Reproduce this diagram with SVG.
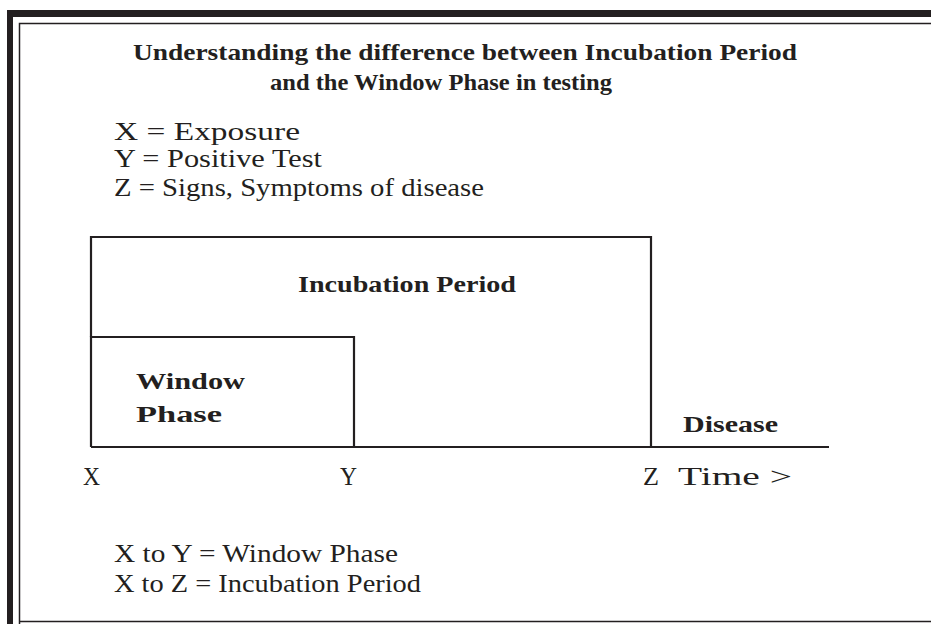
<svg xmlns="http://www.w3.org/2000/svg" width="931" height="624" viewBox="0 0 931 624">
<style>
.t{font-family:"Liberation Serif","DejaVu Serif",serif;fill:#231f20}
.b{font-weight:bold}
.ln{stroke:#231f20;stroke-width:2.2;fill:none}
</style>
<rect width="931" height="624" fill="#fff"/>
<g id="frame">
<rect x="7" y="10" width="924" height="7" fill="#231f20"/>
<rect x="7" y="10" width="6" height="614" fill="#231f20"/>
<path d="M19.5 624 V23.5 H931 M19.5 621.5 H931" stroke="#231f20" stroke-width="1.5" fill="none"/>
</g>
<g id="title">
<text class="t b" x="133" y="60" font-size="23" textLength="664" lengthAdjust="spacingAndGlyphs">Understanding the difference between Incubation Period</text>
<text class="t b" x="270" y="90" font-size="23" textLength="342" lengthAdjust="spacingAndGlyphs">and the Window Phase in testing</text>
</g>
<g id="legend">
<text class="t" x="114" y="140" font-size="25" textLength="186" lengthAdjust="spacingAndGlyphs">X = Exposure</text>
<text class="t" x="114" y="167" font-size="25" textLength="208" lengthAdjust="spacingAndGlyphs">Y = Positive Test</text>
<text class="t" x="114" y="196" font-size="25" textLength="370" lengthAdjust="spacingAndGlyphs">Z = Signs, Symptoms of disease</text>
</g>
<g id="incubation">
<path class="ln" d="M91 337 V237 H651 V447"/>
<text class="t b" x="298" y="292" font-size="23" textLength="218" lengthAdjust="spacingAndGlyphs">Incubation Period</text>
</g>
<g id="window">
<path class="ln" d="M91 447 V337 H354 V447"/>
<text class="t b" x="136" y="389" font-size="23" textLength="109" lengthAdjust="spacingAndGlyphs">Window</text>
<text class="t b" x="136" y="422" font-size="23" textLength="86" lengthAdjust="spacingAndGlyphs">Phase</text>
</g>
<g id="connectors">
<path class="ln" d="M91 447 H651"/>
<path class="ln" d="M651 447 H829"/>
</g>
<g id="disease">
<text class="t b" x="683" y="432" font-size="23" textLength="95" lengthAdjust="spacingAndGlyphs">Disease</text>
</g>
<g id="axis">
<text class="t" x="83" y="485" font-size="26" textLength="17" lengthAdjust="spacingAndGlyphs">X</text>
<text class="t" x="340" y="485" font-size="26" textLength="17" lengthAdjust="spacingAndGlyphs">Y</text>
<text class="t" x="643" y="485" font-size="26" textLength="16" lengthAdjust="spacingAndGlyphs">Z</text>
<text class="t" x="678" y="485" font-size="26" textLength="114" lengthAdjust="spacingAndGlyphs">Time &gt;</text>
</g>
<g id="notes">
<text class="t" x="114" y="562" font-size="25" textLength="284" lengthAdjust="spacingAndGlyphs">X to Y = Window Phase</text>
<text class="t" x="114" y="592" font-size="25" textLength="307" lengthAdjust="spacingAndGlyphs">X to Z = Incubation Period</text>
</g>
</svg>
